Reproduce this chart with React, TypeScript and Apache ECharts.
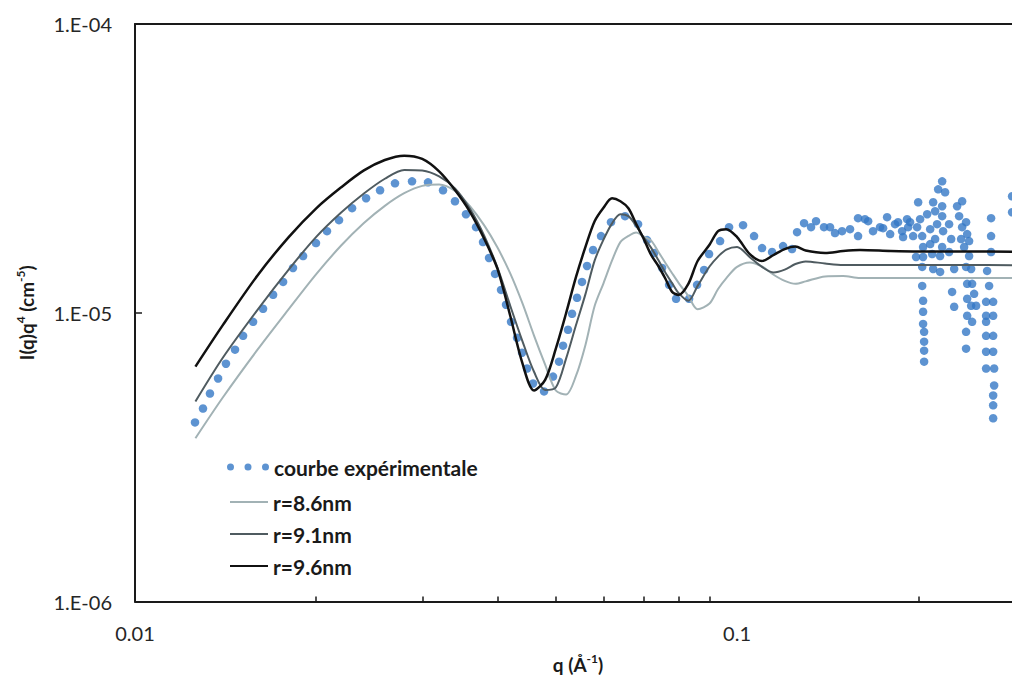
import React, { useEffect, useRef } from 'react';
import * as echarts from 'echarts';

// model curves (q in Å^-1, I(q)q^4 in cm^-5)
const qModel = [0.0126, 0.014, 0.016, 0.018, 0.02, 0.022, 0.024, 0.026, 0.028, 0.03, 0.032, 0.034, 0.036, 0.038, 0.04, 0.042, 0.044, 0.046, 0.048, 0.05, 0.052, 0.054, 0.056, 0.058, 0.06, 0.062, 0.064, 0.066, 0.068, 0.07, 0.072, 0.074, 0.076, 0.078, 0.08, 0.083, 0.086, 0.09, 0.093, 0.096, 0.1, 0.105, 0.11, 0.115, 0.12, 0.125, 0.13, 0.14, 0.15, 0.16, 0.18, 0.2, 0.24, 0.29];

const iR86 = [3.676e-6, 5.096e-6, 7.478e-6, 1.029e-5, 1.361e-5, 1.709e-5, 2.045e-5, 2.345e-5, 2.594e-5, 2.751e-5, 2.78e-5, 2.64e-5, 2.338e-5, 2.011e-5, 1.682e-5, 1.368e-5, 1.079e-5, 8.336e-6, 6.611e-6, 5.379e-6, 5.211e-6, 6.04e-6, 7.736e-6, 1.055e-5, 1.265e-5, 1.517e-5, 1.757e-5, 1.845e-5, 1.895e-5, 1.836e-5, 1.777e-5, 1.627e-5, 1.49e-5, 1.371e-5, 1.267e-5, 1.143e-5, 1.028e-5, 1.076e-5, 1.208e-5, 1.318e-5, 1.441e-5, 1.493e-5, 1.446e-5, 1.354e-5, 1.289e-5, 1.259e-5, 1.284e-5, 1.336e-5, 1.341e-5, 1.32e-5, 1.32e-5, 1.32e-5, 1.32e-5, 1.32e-5];

const iR91 = [4.93e-6, 7.0e-6, 1.028e-5, 1.411e-5, 1.831e-5, 2.224e-5, 2.588e-5, 2.911e-5, 3.124e-5, 3.111e-5, 2.967e-5, 2.697e-5, 2.292e-5, 1.854e-5, 1.432e-5, 1.057e-5, 7.98e-6, 6.245e-6, 5.402e-6, 5.51e-6, 6.935e-6, 9.046e-6, 1.16e-5, 1.515e-5, 1.791e-5, 2.04e-5, 2.194e-5, 2.16e-5, 1.998e-5, 1.82e-5, 1.678e-5, 1.522e-5, 1.379e-5, 1.267e-5, 1.169e-5, 1.1e-5, 1.239e-5, 1.446e-5, 1.565e-5, 1.655e-5, 1.689e-5, 1.557e-5, 1.441e-5, 1.379e-5, 1.41e-5, 1.475e-5, 1.506e-5, 1.481e-5, 1.464e-5, 1.464e-5, 1.464e-5, 1.464e-5, 1.464e-5, 1.46e-5];

const iR96 = [6.51e-6, 9.08e-6, 1.352e-5, 1.828e-5, 2.3e-5, 2.719e-5, 3.111e-5, 3.38e-5, 3.5e-5, 3.41e-5, 3.087e-5, 2.659e-5, 2.236e-5, 1.808e-5, 1.418e-5, 9.76e-6, 6.69e-6, 5.38e-6, 5.856e-6, 7.508e-6, 9.96e-6, 1.328e-5, 1.69e-5, 2.074e-5, 2.31e-5, 2.49e-5, 2.433e-5, 2.3e-5, 2.027e-5, 1.8e-5, 1.585e-5, 1.452e-5, 1.314e-5, 1.181e-5, 1.153e-5, 1.259e-5, 1.511e-5, 1.72e-5, 1.917e-5, 1.948e-5, 1.828e-5, 1.597e-5, 1.511e-5, 1.585e-5, 1.662e-5, 1.696e-5, 1.642e-5, 1.61e-5, 1.636e-5, 1.649e-5, 1.636e-5, 1.63e-5, 1.63e-5, 1.625e-5];

// experimental curve
const qExp = [
  0.01258, 0.01297, 0.01332, 0.01374, 0.01416, 0.01466, 0.01512, 0.01571, 0.01632, 0.01696,
  0.01762, 0.0183, 0.01902, 0.01998, 0.02084, 0.02182, 0.02294, 0.0242, 0.02553, 0.02703,
  0.02885, 0.03067, 0.03248, 0.034, 0.03546, 0.03685, 0.03785, 0.03873, 0.03963, 0.04055,
  0.04133, 0.04213, 0.04311, 0.04394, 0.04479, 0.04583, 0.0478, 0.04947, 0.05062, 0.0514,
  0.05239, 0.0532, 0.05423, 0.05527, 0.05634, 0.05765, 0.05944, 0.06175, 0.06516, 0.06848,
  0.07088, 0.07281, 0.07507, 0.07711, 0.0792, 0.08324, 0.08582, 0.08815, 0.08985, 0.09372,
  0.09699, 0.10232, 0.10672, 0.11004, 0.11433, 0.11924, 0.12341, 0.1258, 0.12921, 0.13271,
  0.13527, 0.13946, 0.1427, 0.14545, 0.14941, 0.15405, 0.15885, 0.15885,
  0.1631, 0.1651, 0.1682, 0.1728, 0.1748, 0.1775, 0.1796, 0.183, 0.1851, 0.188,
  0.1887, 0.1916, 0.1924, 0.1938, 0.1961, 0.1983, 0.1991, 0.1999, 0.2014, 0.203,
  0.2037, 0.2037, 0.203, 0.203, 0.2037, 0.2037, 0.2037, 0.2045, 0.2045, 0.2045,
  0.2045, 0.2069, 0.2093, 0.2093, 0.2109, 0.2117, 0.2117, 0.2133, 0.2133, 0.2149,
  0.2158, 0.2174, 0.2174, 0.2191, 0.2216, 0.2191, 0.2191, 0.2191, 0.2199, 0.225,
  0.2268, 0.225, 0.2294, 0.2276, 0.2294, 0.232, 0.2365, 0.2338, 0.2365, 0.2356,
  0.2383, 0.2401, 0.2411, 0.2429, 0.2429, 0.2401, 0.2448, 0.2411, 0.2457, 0.2476,
  0.2411, 0.2448, 0.2495, 0.2411, 0.2457, 0.2401, 0.2401, 0.2642, 0.2642, 0.2642,
  0.2602, 0.2622, 0.2592, 0.2663, 0.2592, 0.2663, 0.2592, 0.2592, 0.2663, 0.2592,
  0.2663, 0.2592, 0.2673, 0.2673, 0.2663, 0.2663, 0.2663, 0.2863, 0.2863
];
const iExp = [
  4.17e-6, 4.66e-6, 5.25e-6, 5.92e-6, 6.66e-6, 7.45e-6, 8.32e-6, 9.3e-6, 1.032e-5, 1.154e-5,
  1.279e-5, 1.429e-5, 1.572e-5, 1.743e-5, 1.917e-5, 2.092e-5, 2.302e-5, 2.492e-5, 2.655e-5, 2.806e-5,
  2.851e-5, 2.829e-5, 2.655e-5, 2.433e-5, 2.194e-5, 1.979e-5, 1.757e-5, 1.548e-5, 1.363e-5, 1.2e-5,
  1.066e-5, 9.3e-6, 8.19e-6, 7.27e-6, 6.41e-6, 5.69e-6, 5.34e-6, 6.01e-6, 6.77e-6, 7.69e-6,
  8.73e-6, 9.92e-6, 1.127e-5, 1.279e-5, 1.452e-5, 1.649e-5, 1.843e-5, 2.059e-5, 2.16e-5, 2.027e-5,
  1.785e-5, 1.61e-5, 1.429e-5, 1.249e-5, 1.118e-5, 1.118e-5, 1.249e-5, 1.407e-5, 1.597e-5, 1.771e-5,
  1.979e-5, 2.011e-5, 1.843e-5, 1.675e-5, 1.623e-5, 1.702e-5, 1.662e-5, 1.902e-5, 2.043e-5, 1.979e-5,
  2.076e-5, 1.979e-5, 1.979e-5, 1.887e-5, 1.917e-5, 1.948e-5, 2.126e-5, 1.843e-5,
  2.109e-5, 2.076e-5, 1.917e-5, 1.979e-5, 1.963e-5, 2.143e-5, 1.872e-5, 2.027e-5, 2.059e-5, 1.917e-5,
  1.828e-5, 2.109e-5, 1.979e-5, 2.059e-5, 1.843e-5, 1.56e-5, 1.979e-5, 2.413e-5, 2.109e-5, 1.843e-5,
  1.689e-5, 1.56e-5, 1.441e-5, 1.239e-5, 1.1e-5, 1.008e-5, 9.15e-6, 8.59e-6, 7.94e-6, 7.39e-6,
  6.77e-6, 2.194e-5, 1.948e-5, 1.729e-5, 1.597e-5, 2.413e-5, 1.418e-5, 2.247e-5, 1.8e-5, 2.027e-5,
  2.676e-5, 1.572e-5, 1.385e-5, 2.851e-5, 2.613e-5, 2.338e-5, 2.16e-5, 1.689e-5, 1.917e-5, 2.027e-5,
  1.8e-5, 1.623e-5, 1.418e-5, 1.181e-5, 1.049e-5, 2.338e-5, 2.433e-5, 2.16e-5, 1.979e-5, 1.8e-5,
  1.689e-5, 2.059e-5, 1.872e-5, 1.771e-5, 1.572e-5, 1.441e-5, 1.418e-5, 1.259e-5, 1.259e-5, 1.163e-5,
  1.118e-5, 1.057e-5, 1.057e-5, 9.76e-6, 9.3e-6, 8.59e-6, 7.51e-6, 2.126e-5, 1.843e-5, 1.623e-5,
  1.396e-5, 1.239e-5, 1.091e-5, 1.091e-5, 9.76e-6, 9.76e-6, 9.3e-6, 8.32e-6, 8.32e-6, 7.33e-6,
  7.33e-6, 6.41e-6, 6.41e-6, 5.6e-6, 5.17e-6, 4.78e-6, 4.31e-6, 2.531e-5, 2.229e-5
];

const seriesNames = ['courbe expérimentale', 'r=8.6nm', 'r=9.1nm', 'r=9.6nm'];
const lineColors = ['#a2b2b5', '#4f5b60', '#111111'];
const xMinQ = 0.01;
const xMaxQ = 0.2862;
const yMinI = 1e-6;
const yMaxI = 1e-4;
const xLabelValues = [0.01, 0.1];
const xTickValues = [0.02, 0.03, 0.04, 0.05, 0.06, 0.07, 0.08, 0.09, 0.2];
const yLabelValues = [1e-6, 1e-5, 1e-4];
const yTickValues = [1e-5];

const lg = (v: number) => Math.log10(v);
const toPts = (qs: number[], is: number[]) => qs.map((q, i) => [lg(q), lg(is[i])]);

const FONT = 'Lato';
const DOTS_ICON =
  'path://M0,3.5a3.5,3.5 0 1,0 7,0a3.5,3.5 0 1,0 -7,0Z M17.5,3.5a3.5,3.5 0 1,0 7,0a3.5,3.5 0 1,0 -7,0Z M35,3.5a3.5,3.5 0 1,0 7,0a3.5,3.5 0 1,0 -7,0Z';

const legendText = { fontSize: 21, fontWeight: 'bold', color: '#1a1a1a', fontFamily: FONT, lineHeight: 22 };
const richName = {
  b: { fontSize: 19, fontWeight: 'bold', color: '#1a1a1a', fontFamily: FONT, lineHeight: 24 },
  s: { fontSize: 12, fontWeight: 'bold', color: '#1a1a1a', fontFamily: FONT, lineHeight: 13, verticalAlign: 'top' },
};
const axisLineStyle = { color: '#1a1a1a', width: 2 };

export default function App() {
  const ref = useRef<HTMLDivElement>(null);
  useEffect(() => {
    if (!ref.current) return;
    const chart = echarts.init(ref.current, null, { renderer: 'svg' });
    chart.setOption({
      animation: false,
      backgroundColor: '#ffffff',
      textStyle: { fontFamily: FONT },
      grid: { left: 135, top: 24, right: 0, bottom: 75, show: false },
      xAxis: [
        {
          type: 'value',
          min: lg(xMinQ),
          max: lg(xMaxQ),
          splitLine: { show: false },
          axisLine: { show: true, onZero: false, lineStyle: axisLineStyle },
          axisTick: { show: true, inside: true, length: 5, customValues: xTickValues.map(lg), lineStyle: { color: '#1a1a1a', width: 1.5 } },
          axisLabel: {
            customValues: xLabelValues.map(lg),
            formatter: (v: number) => String(Number(Math.pow(10, v).toPrecision(1))),
            fontSize: 20, color: '#262626', fontFamily: FONT, margin: 21,
          },
          name: '{b|q (Å}{s|-1}{b|)}',
          nameLocation: 'middle',
          nameGap: 51,
          nameTextStyle: { rich: richName, padding: [0, 0, 0, 9] },
        },
        {
          type: 'value',
          position: 'top',
          min: lg(xMinQ),
          max: lg(xMaxQ),
          splitLine: { show: false },
          axisLine: { show: true, onZero: false, lineStyle: axisLineStyle },
          axisTick: { show: false },
          axisLabel: { show: false },
        },
      ],
      yAxis: {
        type: 'value',
        min: lg(yMinI),
        max: lg(yMaxI),
        splitLine: { show: false },
        axisLine: { show: true, onZero: false, lineStyle: axisLineStyle },
        axisTick: { show: true, inside: true, length: 7, customValues: yTickValues.map(lg), lineStyle: { color: '#1a1a1a', width: 1.5 } },
        axisLabel: {
          customValues: yLabelValues.map(lg),
          formatter: (v: number) => `1.E-${String(Math.round(-v)).padStart(2, '0')}`,
          fontSize: 20, color: '#262626', fontFamily: FONT, margin: 23,
        },
        name: '{b|I(q)q}{s|4}{b| (cm}{s|-5}{b|)}',
        nameLocation: 'middle',
        nameRotate: 90,
        nameGap: 97,
        nameTextStyle: { rich: richName },
      },
      legend: [
        {
          data: [{ name: seriesNames[0], icon: DOTS_ICON }],
          left: 227, top: 456, orient: 'vertical', padding: 0,
          itemWidth: 42, itemHeight: 7, selectedMode: false, textStyle: legendText,
        },
        {
          data: seriesNames.slice(1).map((n, i) => ({ name: n, icon: 'rect', itemStyle: { color: lineColors[i] } })),
          left: 230, top: 491, orient: 'vertical', padding: 0,
          itemWidth: 38, itemHeight: 2, itemGap: 10, selectedMode: false, textStyle: legendText,
        },
      ],
      series: [
        {
          name: seriesNames[0], type: 'scatter', data: toPts(qExp, iExp),
          symbol: 'circle', symbolSize: 8.5, itemStyle: { color: '#3578c6' }, clip: false,
        },
        ...[iR86, iR91, iR96].map((arr, i) => ({
          name: seriesNames[i + 1], type: 'line', data: toPts(qModel, arr), symbol: 'none', showSymbol: false,
          smooth: 0.3, lineStyle: { color: lineColors[i], width: i === 2 ? 2.5 : 2 }, itemStyle: { color: lineColors[i] },
        })),
      ],
    });
    return () => chart.dispose();
  }, []);
  return (
    <div
      ref={ref}
      style={{ position: 'fixed', left: 0, top: 0, width: 1012, height: 679, background: '#ffffff' }}
    />
  );
}
